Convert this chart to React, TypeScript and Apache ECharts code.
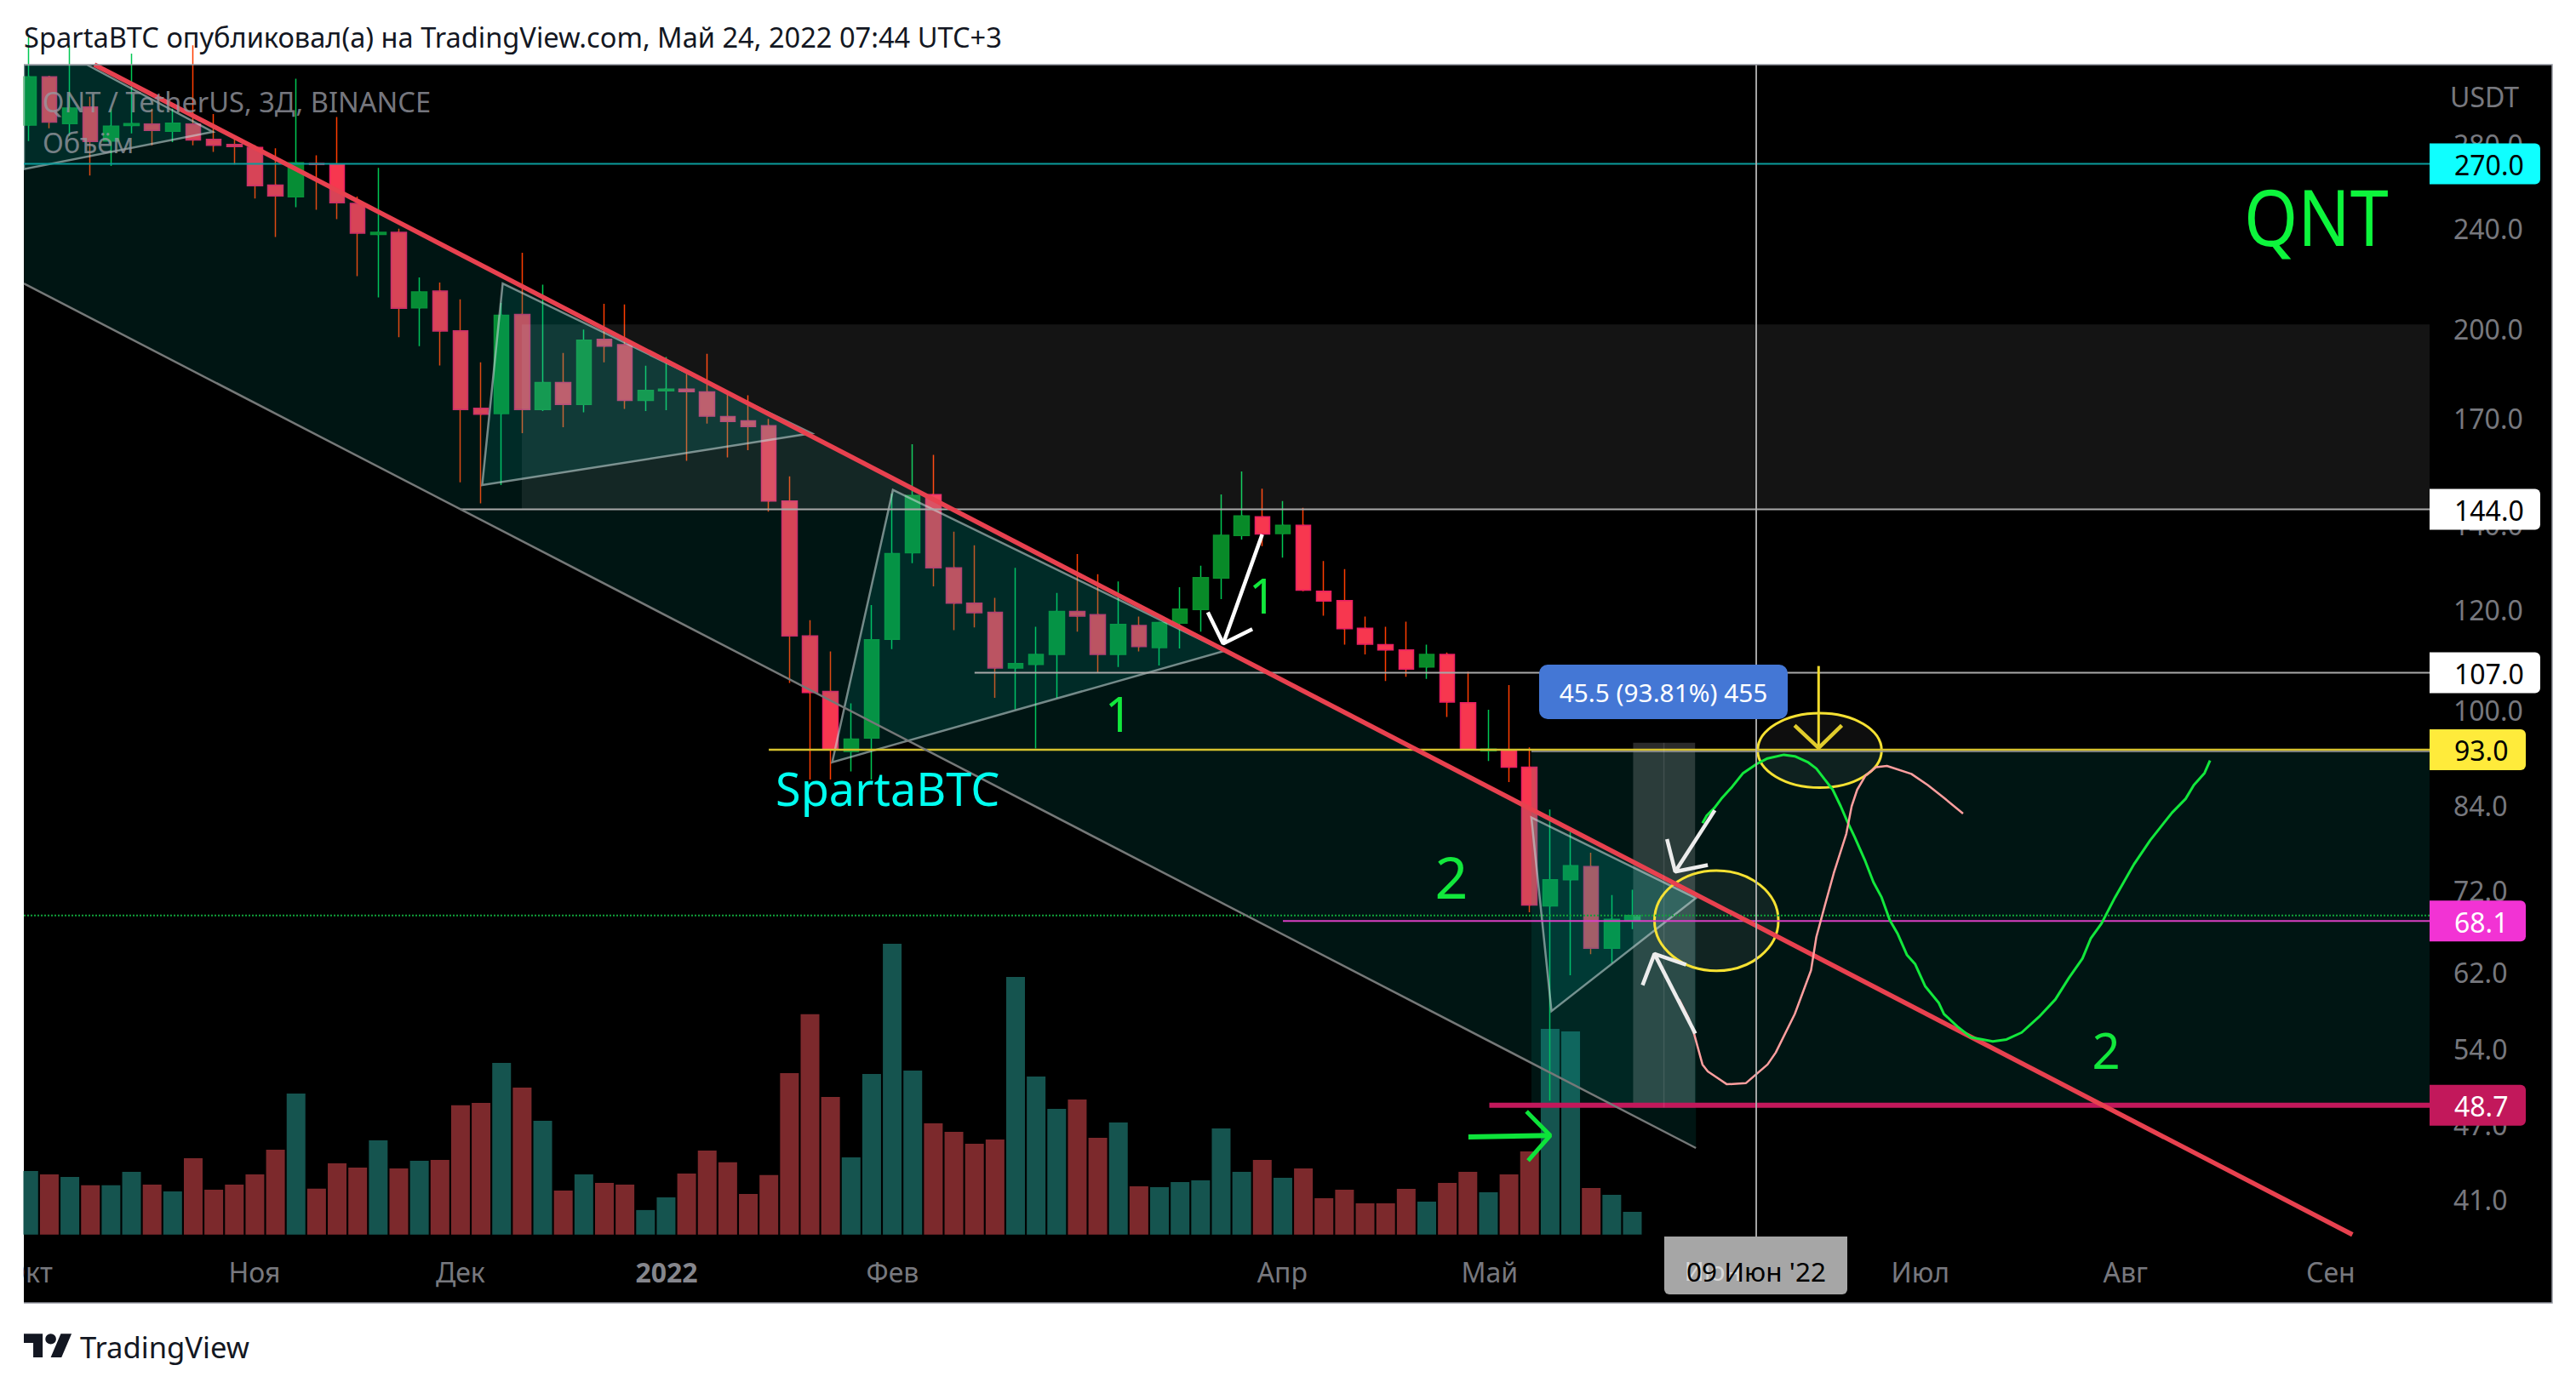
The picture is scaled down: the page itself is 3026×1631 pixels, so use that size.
import React, { useEffect, useRef } from "react";
import * as echarts from "echarts";

const candleOpen = [289.7,316.4,290.5,299.4,281.4,289.5,290.3,286.5,290.3,282.3,279.7,278.2,259.8,254.3,270.2,269.9,251.3,237.5,238.4,207.8,214.2,199.3,173.1,171.4,205.3,172.7,181.4,174.3,196.2,194.3,175.6,178.7,179.2,178.3,170.5,169.2,167.7,146.2,114.4,103.4,92.7,95,113.7,133.1,147.9,129.5,121.4,119.4,107.9,108.6,110.6,119.6,118.9,110.6,116.6,112,117.1,120,127.1,137.3,142.1,137.8,139.9,124.1,122,116,112.6,111.5,108.1,110.6,101.3,92.8,93,90.1,70,73.4,75.2,64.8,68.2];
const candleClose = [316.4,291.3,298.9,281.2,289.2,290.5,287,290.8,282,279.3,278.6,259.5,254.7,270.5,269.7,251.6,238,238.4,207.6,213.9,199.2,172.7,171.2,205,172.7,181.4,174.3,195.9,193.8,175.6,178.8,179.2,178.4,170.6,169,167.4,146.2,114.4,103.2,93,94.8,113.6,132.9,147.7,129.5,121.4,119.3,107.9,108.8,110.6,119.6,118.6,110.6,116.8,112.2,117.2,120.1,127.2,137.4,142.3,137.7,139.9,124.3,121.9,115.9,112.7,111.5,107.7,110.6,101.4,93,93.1,90.1,70.1,73.4,75.3,64.8,68.3,68.8];
const candleLow = [281.4,288.1,284.1,264.3,269,285.4,279.3,280.9,279.3,275.9,269.7,253.5,236.4,249.5,248.4,244.2,220.1,211.8,197,193.8,187.1,151.3,145.6,150.5,165.4,172.2,167.2,171.8,188.2,172.9,172.2,172.5,157.3,168.3,158.3,160.4,143.4,105,88.1,88.1,89.4,88.1,111.7,130.6,125.2,115.6,116.2,102.2,100.1,93.2,102.2,115.3,106.9,108.1,111.2,108.4,111.8,115.3,122.3,136.3,134.7,131.9,124.1,118.7,112.6,110.6,105.4,106.2,105.8,98.7,92.9,91.1,87.7,69.2,49.1,61.7,64.1,63.1,67.1];
const candleHigh = [340,316.9,335,305.2,298.5,330,298.5,298.5,335,295.6,282.4,279.3,277.8,315.2,274.2,294,254.4,268.1,240,219.6,217.6,211,188.2,209.6,229.7,216.7,191.4,199.7,209.3,209.1,187,190,184.3,191.1,177.6,177.2,169.8,152.9,117.7,111.2,101.2,121,148.2,162.1,159,138.3,134.9,122.6,129.5,116.3,123.7,132.8,128,126.3,118.5,117.2,125,130,148,154.3,149.5,146.2,144.4,131.1,129.2,118.5,116.3,117.4,112.6,111,107.2,100,104.6,93.4,83.4,80.1,77.1,71.4,72.1];
const volumes = [74.7,70.6,67.7,57.9,57.9,73.6,58.6,50.6,89.6,52.8,58.6,70.6,99.8,165.7,53.9,83.8,78.7,110.7,77.6,86.7,87.8,151.9,154.8,201.7,172.6,133.6,51.7,70.6,60.8,58.6,28.8,43.7,71.7,98.7,84.9,47.7,69.9,189.7,258.9,161.7,90.7,188.7,341.7,192.7,130.7,120.7,106.7,111.7,302.7,185.7,147.7,158.7,113.7,131.7,56.7,55.7,61.7,63.7,124.7,73.7,87.7,66.7,77.7,42.7,52.7,36.7,36.7,53.7,38.7,60.7,73.7,49.7,70.7,97.7,241.7,238.7,54.7,46.7,26.7];

const priceTicks = [280, 240, 200, 170, 140, 120, 100, 84, 72, 62, 54, 47, 41];
const timeTicks = [0, 11, 21.04, 31.09, 42.1, 61.1, 71.2, 92.2, 102.2, 112.2];
const timeLabels = ["Окт", "Ноя", "Дек", "2022", "Фев", "Апр", "Май", "Июл", "Авг", "Сен"];

const xMin = -0.24, xMax = 117.02, yMin = 38.24, yMax = 323.4;
const barStep = 1.00207;

const levels = [
  { price: 270, text: "270.0", bg: "#0fffff", fg: "#000", from: xMin, line: "#0b9c9c", lw: 2 },
  { price: 144, text: "144.0", bg: "#ffffff", fg: "#000", from: 21.04, line: "#a9a9a9", lw: 2 },
  { price: 107, text: "107.0", bg: "#ffffff", fg: "#000", from: 46.1, line: "#a9a9a9", lw: 2 },
  { price: 93, text: "93.0", bg: "#ffeb3b", fg: "#000", from: 36.07, line: "#d6c22e", lw: 2.5 },
  { price: 68.1, text: "68.1", bg: "#f233d4", fg: "#fff", from: 61.13, line: "#d93fc4", lw: 2 },
  { price: 48.7, text: "48.7", bg: "#c2185b", fg: "#fff", from: 71.19, line: "#c2185b", lw: 6 },
];

const channelFill = "rgba(0,160,145,0.13)";
const triFill = "rgba(0,190,175,0.13)";
const triStroke = "rgba(200,215,215,0.58)";
const zones = [
  { fill: channelFill, pts: [[xMin, yMax], [3.2, yMax], [81.26, 71.5], [81.26, 45.06], [xMin, 217.2]] },
  { fill: channelFill, pts: [[73.24, 92.7], [xMax, 92.7], [xMax, 48.7], [73.24, 48.7]] },
  { fill: "rgba(255,255,255,0.08)", pts: [[24.03, 201.6], [xMax, 201.6], [xMax, 144], [24.03, 144]] },
  { fill: "rgba(255,255,255,0.17)", pts: [[78.2, 94.2], [81.22, 94.2], [81.22, 48.5], [78.2, 48.5]] },
  { fill: triFill, stroke: triStroke, pts: [[xMin, yMax], [2.83, yMax], [8.97, 286.2], [xMin, 267.4]] },
  { fill: triFill, stroke: triStroke, pts: [[23.1, 217.2], [38.16, 165.4], [22.1, 150.5]] },
  { fill: triFill, stroke: triStroke, pts: [[42.12, 149.2], [58.27, 111.3], [39.16, 90.9]] },
  { fill: triFill, stroke: triStroke, pts: [[73.24, 82.2], [81.26, 71], [74.22, 57.8]] },
];
const ellipses = [
  { fill: "rgba(255,255,255,0.055)", stroke: "#f5e132", box: [84.27, 90.31, 99.4, 86.8] },
  { fill: "rgba(255,255,255,0.065)", stroke: "#f5e132", box: [79.24, 85.28, 74.65, 62.2] },
];

const greenCurve = [[81.58,81.37],[81.79,82.51],[82.16,83.66],[82.5,85.06],[83.03,86.95],[83.56,89.13],[84.22,90.62],[84.75,91.54],[85.55,92.15],[86.08,91.9],[86.74,90.87],[87.13,89.87],[87.53,88.14],[87.93,86.47],[88.32,83.9],[88.64,81.6],[88.99,79.4],[89.52,75.9],[89.91,73.1],[90.31,71.1],[90.71,68.2],[91.1,66.5],[91.55,64],[91.95,62.95],[92.43,60.5],[93.09,58.7],[93.35,57.5],[94.01,56.2],[94.68,55.1],[95.73,54.7],[96.4,54.9],[97.14,55.6],[97.98,57.2],[98.78,59.05],[99.44,61.4],[100.1,63.6],[100.5,65.95],[101.03,67.8],[101.69,71.1],[102.61,75.5],[103.41,78.9],[104.47,82.95],[105.13,85.06],[105.53,87.2],[106.05,89.13],[106.32,91.2]];
const pinkCurve = [[80.44,59.05],[80.92,57],[81.18,55.4],[81.58,52.45],[81.84,51.8],[82.77,50.6],[83.69,50.7],[84.75,52.45],[85.15,53.6],[86.08,57.5],[86.87,62.25],[87.13,66.15],[87.53,69.9],[87.98,74.3],[88.59,79.8],[88.85,83.9],[89.12,86.47],[89.52,88.7],[90.04,90.1],[90.57,90.3],[91.76,89],[92.56,87.2],[93.35,85.2],[94.28,82.8]];

const strokes = [
  { color: "#e8414f", width: 5.5, pts: [[3.2, yMax], [113.26, 38.49]] },
  { color: "#757878", width: 2.5, pts: [[xMin, 217.2], [81.26, 45.06]] },
  { color: "rgba(150,150,150,0.8)", width: 2, pts: [[73.24, 92.7], [xMax, 92.7]] },
  { color: "rgba(255,255,255,0.1)", width: 1.5, pts: [[79.7, 94.2], [79.7, 48.5]] },
  { color: "#12e83c", width: 3, pts: greenCurve },
  { color: "#ff9f9f", width: 2.5, pts: pinkCurve },
  { color: "#ffffff", width: 4.5, pts: [[60.12, 137.6], [58.22, 112.8]] },
  { color: "#ffffff", width: 4.5, pts: [[57.47, 119.4], [58.22, 112.8], [59.64, 115.8]] },
  { color: "#ececec", width: 4.5, pts: [[82.18, 83.3], [80.25, 74.5]] },
  { color: "#ececec", width: 4.5, pts: [[79.85, 79.05], [80.25, 74.5], [81.84, 75.4]] },
  { color: "#ececec", width: 4.5, pts: [[81.23, 55.5], [79.24, 64.15]] },
  { color: "#ececec", width: 4.5, pts: [[78.66, 60.6], [79.24, 64.15], [80.78, 62.9]] },
  { color: "#f0da2c", width: 3, pts: [[87.24, 108.3], [87.24, 93.3]] },
  { color: "#e0cc2c", width: 4.5, pts: [[86.07, 97.2], [87.24, 93.3], [88.37, 97.2]] },
  { color: "#0de33a", width: 6, pts: [[70.17, 45.98], [74.16, 46.1]] },
  { color: "#0de33a", width: 5, pts: [[73, 48.17], [74.16, 46.1], [73.08, 44.03]] },
  { color: "#b5b5b5", width: 1.8, pts: [[84.2, yMax], [84.2, yMin]] },
];

const SANS = "'Noto Sans', sans-serif";
const lineSeries = (color: string, width: number, pts: number[][], z: number, type: string = "solid") => ({
  type: "line", data: pts, xAxisIndex: 0, yAxisIndex: 0, symbol: "none", silent: true, z,
  lineStyle: { color, width, type }, emphasis: { disabled: true }, animation: false,
});
const txt = (text: string, x: number, y: number, size: number, fill: string, extra: any = {}) => ({
  type: "text", x, y, z: 60, silent: true,
  style: { text, fontSize: size, fontFamily: SANS, fill, textVerticalAlign: "middle", textAlign: "left", ...extra },
});

echarts.graphic.registerShape("tvlogo", echarts.graphic.extendPath(
  "M14 22H7V11H0V4h14v18zM28 22h-8l7.5-18h8L28 22zM20 4a4 4 0 1 0 0 8a4 4 0 1 0 0-8z", {}) as any);

export default function App() {
  const ref = useRef<HTMLDivElement>(null);
  useEffect(() => {
    const chart = echarts.init(ref.current!, null, { renderer: "svg" });
    const idx = candleOpen.map((_, i) => i);
    const option: any = {
      animation: false,
      backgroundColor: "#ffffff",
      grid: [
        { left: 28, top: 76, width: 2826, height: 1379, show: false },
        { left: 28, top: 1050.7, width: 2826, height: 400, show: false },
      ],
      xAxis: [
        {
          type: "value", gridIndex: 0, min: xMin, max: xMax, splitLine: { show: false },
          axisLine: { show: false }, axisTick: { show: false },
          axisLabel: {
            customValues: timeTicks, fontSize: 32, fontFamily: SANS, color: "#77787e", margin: 23, hideOverlap: false,
            formatter: (v: number) => {
              const t = timeLabels[timeTicks.findIndex((q) => Math.abs(q - v) < 1e-6)] ?? "";
              return t === "2022" ? "{b|2022}" : t;
            },
            rich: { b: { fontSize: 32, fontWeight: "bold", fontFamily: SANS, color: "#85868c" } },
          },
        },
        { type: "value", gridIndex: 1, min: xMin, max: xMax, show: false },
      ],
      yAxis: [
        {
          type: "log", logBase: 10, gridIndex: 0, position: "right", min: yMin, max: yMax, splitLine: { show: false },
          axisLine: { show: false }, axisTick: { show: false }, minorTick: { show: false },
          axisLabel: {
            customValues: priceTicks, fontSize: 32, fontFamily: SANS, color: "#77787e", margin: 28, hideOverlap: false,
            formatter: (v: number) => Number(v).toFixed(1),
          },
        },
        { type: "value", gridIndex: 1, min: 0, max: 400, show: false },
      ],
      graphic: [
        { type: "rect", z: -1, silent: true, shape: { x: 28, y: 76, width: 2970, height: 1455 }, style: { fill: "#000" } },
        { type: "rect", z: 50, silent: true, shape: { x: 0, y: 76, width: 27.5, height: 1455 }, style: { fill: "#fff" } },
        { type: "polyline", z: 50, silent: true, shape: { points: [[28, 76], [2998, 76], [2998, 1531], [28, 1531]] }, style: { stroke: "#9598a1", lineWidth: 1.5, fill: "none" } },
        { type: "rect", z: 50, silent: true, shape: { x: 1955, y: 1453, width: 215, height: 68, r: [0, 0, 6, 6] }, style: { fill: "#a6a6a6" } },
        txt("Июн", 2012, 1493, 31, "#d8d8d8", { textAlign: "center" }),
        txt("09 Июн '22", 2063, 1493, 31.5, "#000", { textAlign: "center" }),
        txt("SpartaBTC опубликовал(а) на TradingView.com, Май 24, 2022 07:44 UTC+3", 28, 43, 32.6, "#131722"),
        txt("QNT / TetherUS, 3Д, BINANCE", 50, 119, 32.6, "rgba(150,152,160,0.8)"),
        txt("Объём", 50, 167, 32.6, "rgba(150,152,160,0.8)"),
        txt("USDT", 2878, 113, 32, "#77787e"),
        { ...txt("QNT", 2636, 254, 81, "#0df53c"), scaleY: 1.12, originX: 0, originY: 0 },
        txt("SpartaBTC", 911, 926, 54, "#00fff0"),
        txt("1", 1314, 838, 56, "#12e83c", { textAlign: "center" }),
        txt("1", 1483, 699, 56, "#12e83c", { textAlign: "center" }),
        txt("2", 1705, 1029, 68, "#12e83c", { textAlign: "center" }),
        txt("2", 2474, 1233, 58, "#12e83c", { textAlign: "center" }),
        { type: "rect", z: 55, silent: true, shape: { x: 1808, y: 781, width: 292, height: 64, r: 10 }, style: { fill: "#4477d5" } },
        txt("45.5 (93.81%) 455", 1954, 813, 29.8, "#ffffff", { textAlign: "center" }),
        { type: "tvlogo", z: 60, silent: true, x: 28, y: 1561, scaleX: 1.58, scaleY: 1.55, style: { fill: "#131722" } },
        txt("TradingView", 94, 1582, 34.6, "#131722"),
      ],
      series: [
        {
          type: "bar", name: "Объём", xAxisIndex: 1, yAxisIndex: 1, barWidth: 22, z: 1, silent: true, clip: true,
          data: volumes.map((v, i) => ({
            value: [i * barStep, v],
            itemStyle: { color: candleClose[i] >= candleOpen[i] ? "#15544f" : "#7c292c" },
          })),
        },
        {
          type: "candlestick", name: "Wicks", xAxisIndex: 0, yAxisIndex: 0, barWidth: 1.5, z: 2, silent: true, clip: true,
          encode: { x: 0, y: [1, 2, 3, 4] },
          itemStyle: { color: "#00c853", color0: "#ff3d00", borderColor: "#00c853", borderColor0: "#ff3d00", borderWidth: 1.5 },
          data: idx.map((i) => [i * barStep, candleOpen[i], candleClose[i], candleLow[i], candleHigh[i]]),
        },
        {
          type: "candlestick", name: "QNT / TetherUS", xAxisIndex: 0, yAxisIndex: 0, barWidth: 18, z: 3, silent: true, clip: true,
          encode: { x: 0, y: [1, 2, 3, 4] },
          itemStyle: { color: "#088a28", color0: "#f7374f", borderColor: "#0a8f2c", borderColor0: "#e91e63", borderWidth: 1.5 },
          data: idx.map((i) => [i * barStep, candleOpen[i], candleClose[i], Math.min(candleOpen[i], candleClose[i]), Math.max(candleOpen[i], candleClose[i])]),
        },
        {
          type: "custom", xAxisIndex: 0, yAxisIndex: 0, z: 4, clip: true, silent: true,
          data: zones.map((_, i) => [i, 100]),
          renderItem: (p: any, api: any) => {
            const s: any = zones[p.dataIndex];
            return {
              type: "polygon", shape: { points: s.pts.map((q: number[]) => api.coord(q)) },
              style: { fill: s.fill, stroke: s.stroke ?? "none", lineWidth: 2.5 },
            };
          },
        },
        {
          type: "custom", xAxisIndex: 0, yAxisIndex: 0, z: 5, clip: true, silent: true,
          data: ellipses.map((_, i) => [i, 100]),
          renderItem: (p: any, api: any) => {
            const s = ellipses[p.dataIndex];
            const a = api.coord([s.box[0], s.box[2]]);
            const b = api.coord([s.box[1], s.box[3]]);
            return {
              type: "ellipse",
              shape: { cx: (a[0] + b[0]) / 2, cy: (a[1] + b[1]) / 2, rx: (b[0] - a[0]) / 2, ry: (b[1] - a[1]) / 2 },
              style: { fill: s.fill, stroke: s.stroke, lineWidth: 3 },
            };
          },
        },
        ...levels.map((l) => lineSeries(l.line, l.lw, [[l.from, l.price], [xMax, l.price]], 6)),
        lineSeries("#10a33a", 2, [[xMin, candleClose[candleClose.length - 1]], [xMax, candleClose[candleClose.length - 1]]], 6, "dotted"),
        ...strokes.map((s) => lineSeries(s.color, s.width, s.pts, 7)),
        {
          type: "custom", xAxisIndex: 0, yAxisIndex: 0, z: 20, clip: false, silent: true,
          data: levels.map((l, i) => [i, l.price]),
          renderItem: (p: any, api: any) => {
            const l = levels[p.dataIndex];
            const c = api.coord([xMax, l.price]);
            const w = l.text.length > 4 ? 130 : 113;
            return {
              type: "group",
              children: [
                { type: "rect", shape: { x: c[0], y: c[1] - 24, width: w, height: 48, r: [0, 6, 6, 0] }, style: { fill: l.bg } },
                { type: "text", style: { text: l.text, x: c[0] + 29, y: c[1] + 1, fill: l.fg, fontSize: 32, fontFamily: SANS, textAlign: "left", textVerticalAlign: "middle" } },
              ],
            };
          },
        },
      ],
    };
    chart.setOption(option);
    return () => chart.dispose();
  }, []);
  return <div ref={ref} style={{ position: "fixed", left: 0, top: 0, width: 3026, height: 1631 }} />;
}
